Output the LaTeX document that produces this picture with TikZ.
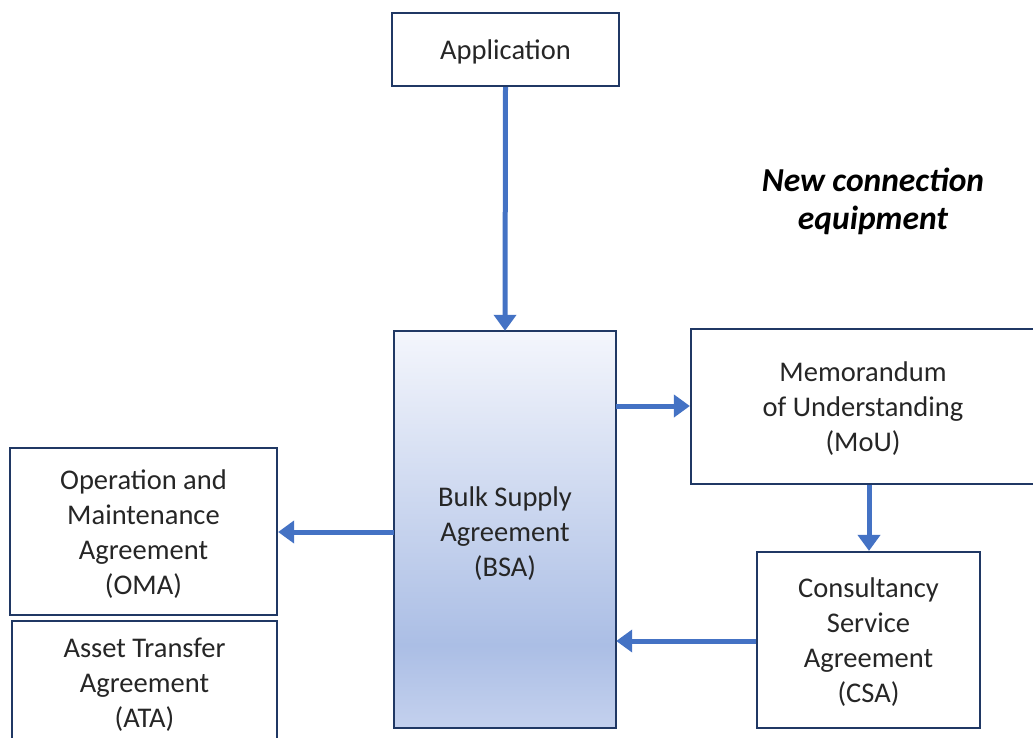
\documentclass[tikz,border=0pt]{standalone}
\usepackage{fontspec}
\setmainfont{Carlito}
\usetikzlibrary{arrows.meta}
\definecolor{boxline}{HTML}{203864}
\definecolor{arrowblue}{HTML}{4472C4}
\definecolor{gradtop}{HTML}{F4F6FC}
\definecolor{gradmid}{HTML}{ABBEE5}
\definecolor{gradbot}{HTML}{C4D1EE}
\tikzset{
  box/.style={draw=boxline, line width=2.2pt, fill=white, inner sep=0pt, align=center,
    font=\fontsize{28.5}{35}\selectfont, text=black!85},
  lbl/.style={align=center, font=\fontsize{28.5}{35}\selectfont, text=black!85},
  conn/.style={draw=arrowblue, line width=5pt, -{Triangle[length=16pt,width=22pt]}},
}
\begin{document}
\begin{tikzpicture}[x=1pt,y=-1pt]
\useasboundingbox (0,0) rectangle (1033,738);
\node[box, minimum width=227pt, minimum height=73pt] (app) at (505.5,49.5) {};
\node[lbl] at (505.5,52) {Application};
\node[minimum width=222pt, minimum height=397pt, inner sep=0pt] (bsa) at (505,529.5) {};
\shade[top color=gradtop, bottom color=gradmid] (bsa.north west) rectangle (bsa.east |- 0,645);
\shade[top color=gradmid, bottom color=gradbot] (bsa.west |- 0,645) rectangle (bsa.south east);
\draw[boxline, line width=2.2pt] (bsa.north west) rectangle (bsa.south east);
\node[lbl] at (505,534) {Bulk Supply\\Agreement\\(BSA)};
\node[box, minimum width=344pt, minimum height=155pt] (mou) at (863,406.5) {};
\node[lbl] at (863,409) {Memorandum\\of Understanding\\(MoU)};
\node[box, minimum width=267pt, minimum height=167pt] (oma) at (143.5,531.5) {};
\node[lbl] at (143.5,534.5) {Operation and\\Maintenance\\Agreement\\(OMA)};
\node[box, minimum width=265pt, minimum height=130pt, anchor=north] (ata) at (144.5,619.5) {};
\node[lbl, anchor=north] at (144.5,634) {Asset Transfer\\Agreement\\(ATA)};
\node[box, minimum width=223pt, minimum height=176pt] (csa) at (868.5,640) {};
\node[lbl] at (868.5,642.5) {Consultancy\\Service\\Agreement\\(CSA)};
\node[align=center, font=\fontsize{33.5}{38}\selectfont\bfseries\itshape] (title) at (873,201) {New connection\\equipment};
\draw[conn] (app.south) -- (bsa.north);
\draw[conn] (bsa.east |- 0,406) -- (mou.west |- 0,406);
\draw[conn] (mou.south -| 869,0) -- (csa.north -| 869,0);
\draw[conn] (csa.west |- 0,641) -- (bsa.east |- 0,641);
\draw[conn] (bsa.west |- 0,532) -- (oma.east |- 0,532);
\end{tikzpicture}
\end{document}
